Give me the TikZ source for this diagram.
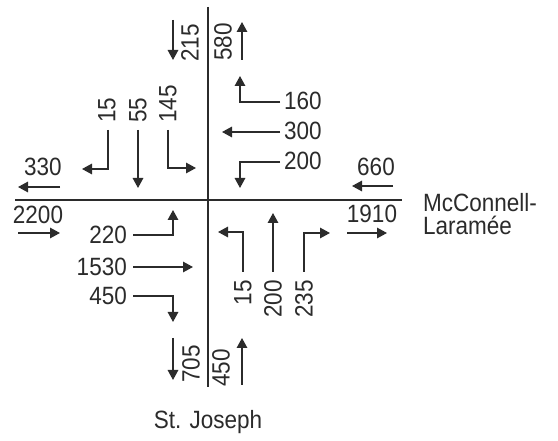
\documentclass[tikz,border=0pt]{standalone}
\usepackage{fontspec}
\setmainfont{Liberation Sans}[FakeStretch=0.9]
\usetikzlibrary{arrows.meta}
\definecolor{ink}{rgb}{0.17,0.17,0.17}
\begin{document}
\begin{tikzpicture}[x=1pt,y=-1pt,
 lbl/.style={inner sep=0pt,text=ink,font=\fontsize{25}{23}\selectfont},
 vlbl/.style={lbl,rotate=90},
 road/.style={draw=ink,line width=2.2pt},
 mv/.style={draw=ink,line width=1.5pt,-{Triangle[length=10pt,width=10.5pt]}}]
\useasboundingbox[fill=white] (0,0) rectangle (558,441);
% roads
\coordinate (nN) at (208,7);
\coordinate (nS) at (208,387);
\coordinate (wW) at (15,200);
\coordinate (eE) at (402,200);
\draw[road] (nN) -- (nS);
\draw[road] (wW) -- (eE);
% street names
\node[lbl,align=left,anchor=north west] (mcl) at (423,193) {McConnell-\\Laram\'ee};
\node[lbl] (stj) at (208,422) {St. Joseph};
% north approach totals
\node[vlbl,anchor=west] (t215) at (190,62) {215};
\node[vlbl,anchor=west] (t580) at (223,61) {580};
\coordinate (a215s) at (173,20); \coordinate (a215e) at (173,60);
\draw[mv] (a215s) -- (a215e);
\coordinate (a580s) at (242,60); \coordinate (a580e) at (242,22);
\draw[mv] (a580s) -- (a580e);
% southbound movements
\node[vlbl,anchor=west] (s15) at (107,123) {15};
\node[vlbl,anchor=west] (s55) at (138,123) {55};
\node[vlbl,anchor=west] (s145) at (168,123) {145};
\coordinate (s15a) at (108,130); \coordinate (s15b) at (108,169); \coordinate (s15c) at (82,169);
\draw[mv] (s15a) -- (s15b) -- (s15c);
\coordinate (s55a) at (138,130); \coordinate (s55b) at (138,188);
\draw[mv] (s55a) -- (s55b);
\coordinate (s145a) at (168,130); \coordinate (s145b) at (168,168); \coordinate (s145c) at (196,168);
\draw[mv] (s145a) -- (s145b) -- (s145c);
% west leg totals
\node[lbl] (t330) at (43,167) {330};
\coordinate (a330s) at (60,187); \coordinate (a330e) at (18,187);
\draw[mv] (a330s) -- (a330e);
\node[lbl] (t2200) at (38,215) {2200};
\coordinate (a2200s) at (18,233); \coordinate (a2200e) at (60,233);
\draw[mv] (a2200s) -- (a2200e);
% westbound movements
\node[lbl,anchor=west] (w160) at (284,101) {160};
\node[lbl,anchor=west] (w300) at (284,131) {300};
\node[lbl,anchor=west] (w200) at (284,161) {200};
\coordinate (w160a) at (280,102); \coordinate (w160b) at (240,102); \coordinate (w160c) at (240,76);
\draw[mv] (w160a) -- (w160b) -- (w160c);
\coordinate (w300a) at (280,132); \coordinate (w300b) at (222,132);
\draw[mv] (w300a) -- (w300b);
\coordinate (w200a) at (280,162); \coordinate (w200b) at (240,162); \coordinate (w200c) at (240,188);
\draw[mv] (w200a) -- (w200b) -- (w200c);
% east leg totals
\node[lbl] (t660) at (376,167) {660};
\coordinate (a660s) at (393,186); \coordinate (a660e) at (352,186);
\draw[mv] (a660s) -- (a660e);
\node[lbl] (t1910) at (372,214) {1910};
\coordinate (a1910s) at (347,233); \coordinate (a1910e) at (387,233);
\draw[mv] (a1910s) -- (a1910e);
% eastbound movements
\node[lbl,anchor=east] (e220) at (127,235) {220};
\node[lbl,anchor=east] (e1530) at (127,267) {1530};
\node[lbl,anchor=east] (e450) at (127,296) {450};
\coordinate (e220a) at (133,235); \coordinate (e220b) at (173,235); \coordinate (e220c) at (173,210);
\draw[mv] (e220a) -- (e220b) -- (e220c);
\coordinate (e1530a) at (133,267); \coordinate (e1530b) at (193,267);
\draw[mv] (e1530a) -- (e1530b);
\coordinate (e450a) at (133,296); \coordinate (e450b) at (173,296); \coordinate (e450c) at (173,322);
\draw[mv] (e450a) -- (e450b) -- (e450c);
% northbound movements
\node[vlbl,anchor=east] (n15) at (243,280) {15};
\node[vlbl,anchor=east] (n200) at (273,280) {200};
\node[vlbl,anchor=east] (n235) at (304,280) {235};
\coordinate (n15a) at (243,272); \coordinate (n15b) at (243,232); \coordinate (n15c) at (218,232);
\draw[mv] (n15a) -- (n15b) -- (n15c);
\coordinate (n200a) at (273,272); \coordinate (n200b) at (273,213);
\draw[mv] (n200a) -- (n200b);
\coordinate (n235a) at (304,272); \coordinate (n235b) at (304,233); \coordinate (n235c) at (330,233);
\draw[mv] (n235a) -- (n235b) -- (n235c);
% south leg totals
\node[vlbl,anchor=west] (t705) at (191,383) {705};
\node[vlbl,anchor=west] (t450) at (221,387) {450};
\coordinate (a705s) at (173,338); \coordinate (a705e) at (173,380);
\draw[mv] (a705s) -- (a705e);
\coordinate (a450s) at (242,385); \coordinate (a450e) at (242,338);
\draw[mv] (a450s) -- (a450e);
\end{tikzpicture}
\end{document}
